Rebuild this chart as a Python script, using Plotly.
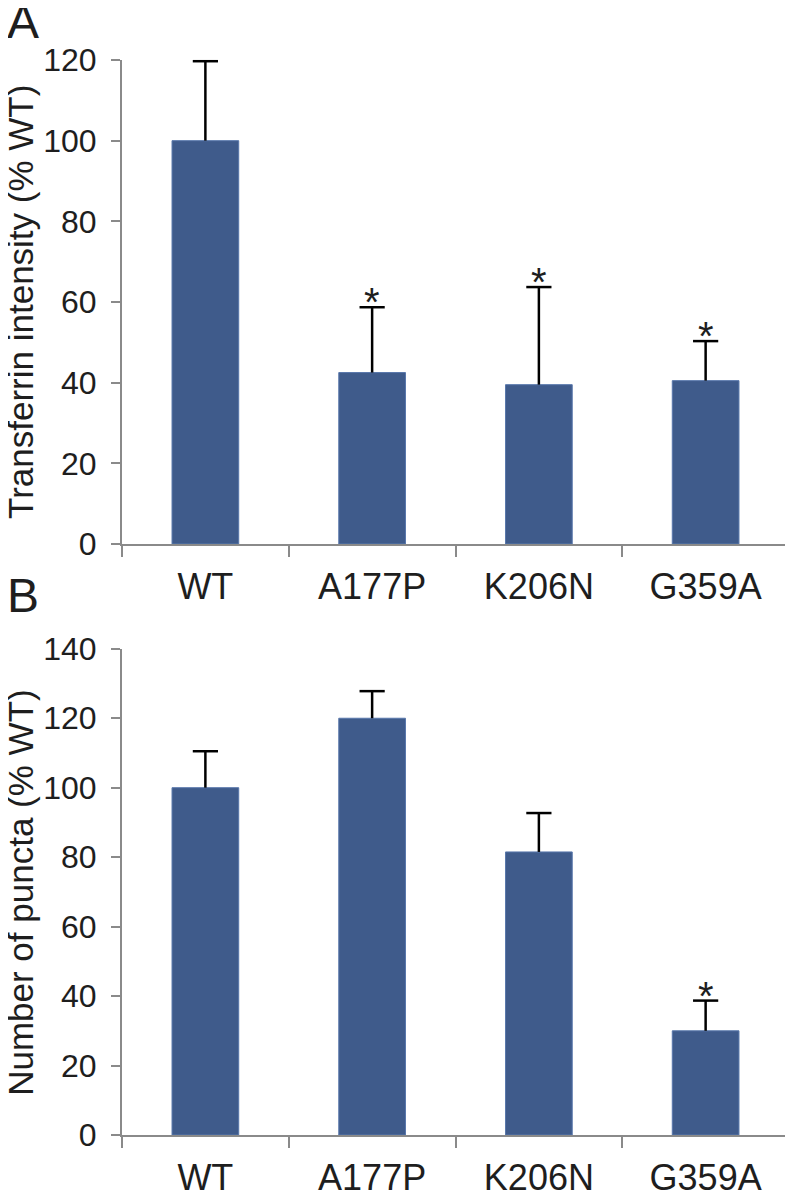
import plotly.graph_objects as go
from plotly.subplots import make_subplots

categories = ["WT", "A177P", "K206N", "G359A"]

# Panel A: Transferrin intensity (% WT)
a_values = [100, 42.5, 39.5, 40.5]
a_errors = [19.7, 16.2, 24.2, 9.8]
a_signif = [False, True, True, True]

# Panel B: Number of puncta (% WT)
b_values = [100, 120, 81.5, 30]
b_errors = [10.5, 7.8, 11.2, 8.7]
b_signif = [False, False, False, True]

y_titles = ["Transferrin intensity (% WT)", "Number of puncta (% WT)"]
panel_labels = ["A", "B"]

BAR = "#3f5b8b"
AXIS = "#8a8a8a"
TXT = "#1e1e1e"
FONT = "Liberation Sans, Arial, sans-serif"

fig = make_subplots(rows=2, cols=1, shared_xaxes=False, vertical_spacing=0.1)

def add_panel(row, vals, errs, sig):
    fig.add_trace(go.Bar(
        x=categories, y=vals, width=0.4,
        marker=dict(color=BAR, line=dict(color="#5877ab", width=1)),
        error_y=dict(type="data", symmetric=False, array=errs,
                     arrayminus=[0] * len(errs), color="black",
                     thickness=2.5, width=0),
        showlegend=False, hoverinfo="skip"), row=row, col=1)
    tops = [v + e for v, e in zip(vals, errs)]
    fig.add_trace(go.Scatter(
        x=categories, y=tops, mode="markers",
        marker=dict(symbol="line-ew", size=18,
                    line=dict(color="black", width=2.5)),
        showlegend=False, hoverinfo="skip", cliponaxis=False), row=row, col=1)
    for c, t, s in zip(categories, tops, sig):
        if s:
            fig.add_annotation(x=c, y=t, text="*", showarrow=False,
                               xref="x" if row == 1 else "x2",
                               yref="y" if row == 1 else "y2",
                               yanchor="bottom", yshift=-19,
                               font=dict(family=FONT, size=40, color=TXT))

add_panel(1, a_values, a_errors, a_signif)
add_panel(2, b_values, b_errors, b_signif)

xcommon = dict(showline=True, linecolor=AXIS, linewidth=2,
               ticks="outside", tickson="boundaries", ticklen=11,
               tickcolor=AXIS, tickwidth=2, showgrid=False,
               tickfont=dict(family=FONT, size=36, color=TXT),
               ticklabelstandoff=10, domain=[0, 1], automargin=False)
ycommon = dict(showline=True, linecolor=AXIS, linewidth=2,
               ticks="outside", ticklen=9, tickcolor=AXIS, tickwidth=2,
               showgrid=False, zeroline=False, dtick=20,
               tickfont=dict(family=FONT, size=32, color=TXT),
               ticklabelstandoff=8, automargin=False)

fig.update_xaxes(**xcommon)
fig.update_yaxes(**ycommon)
domains = [[0.5498, 1.0], [0.0, 0.4523]]
fig.update_yaxes(range=[0, 120], domain=domains[0], row=1, col=1)
fig.update_yaxes(range=[0, 140], domain=domains[1], row=2, col=1)

# y-axis titles as rotated annotations centred on each panel
for title, dom in zip(y_titles, domains):
    fig.add_annotation(text=title, xref="paper", yref="paper",
                       x=-0.1515, y=(dom[0] + dom[1]) / 2,
                       xanchor="center", yanchor="middle", textangle=-90,
                       showarrow=False,
                       font=dict(family=FONT, size=35, color=TXT))

fig.add_annotation(text=panel_labels[0], xref="paper", yref="paper",
                   x=-0.176, y=1.0625, xanchor="left", yanchor="top",
                   showarrow=False, font=dict(family=FONT, size=48, color=TXT))
fig.add_annotation(text=panel_labels[1], xref="paper", yref="paper",
                   x=-0.176, y=0.5284, xanchor="left", yanchor="top",
                   showarrow=False, font=dict(family=FONT, size=48, color=TXT))

# page body adds an 8px offset; size the figure so it fits the window
fig.update_layout(width=785, height=1186,
                  margin=dict(l=114, r=4, t=52, b=59, autoexpand=False),
                  plot_bgcolor="white", paper_bgcolor="white",
                  bargap=0.6)

fig.write_html("out.html")
